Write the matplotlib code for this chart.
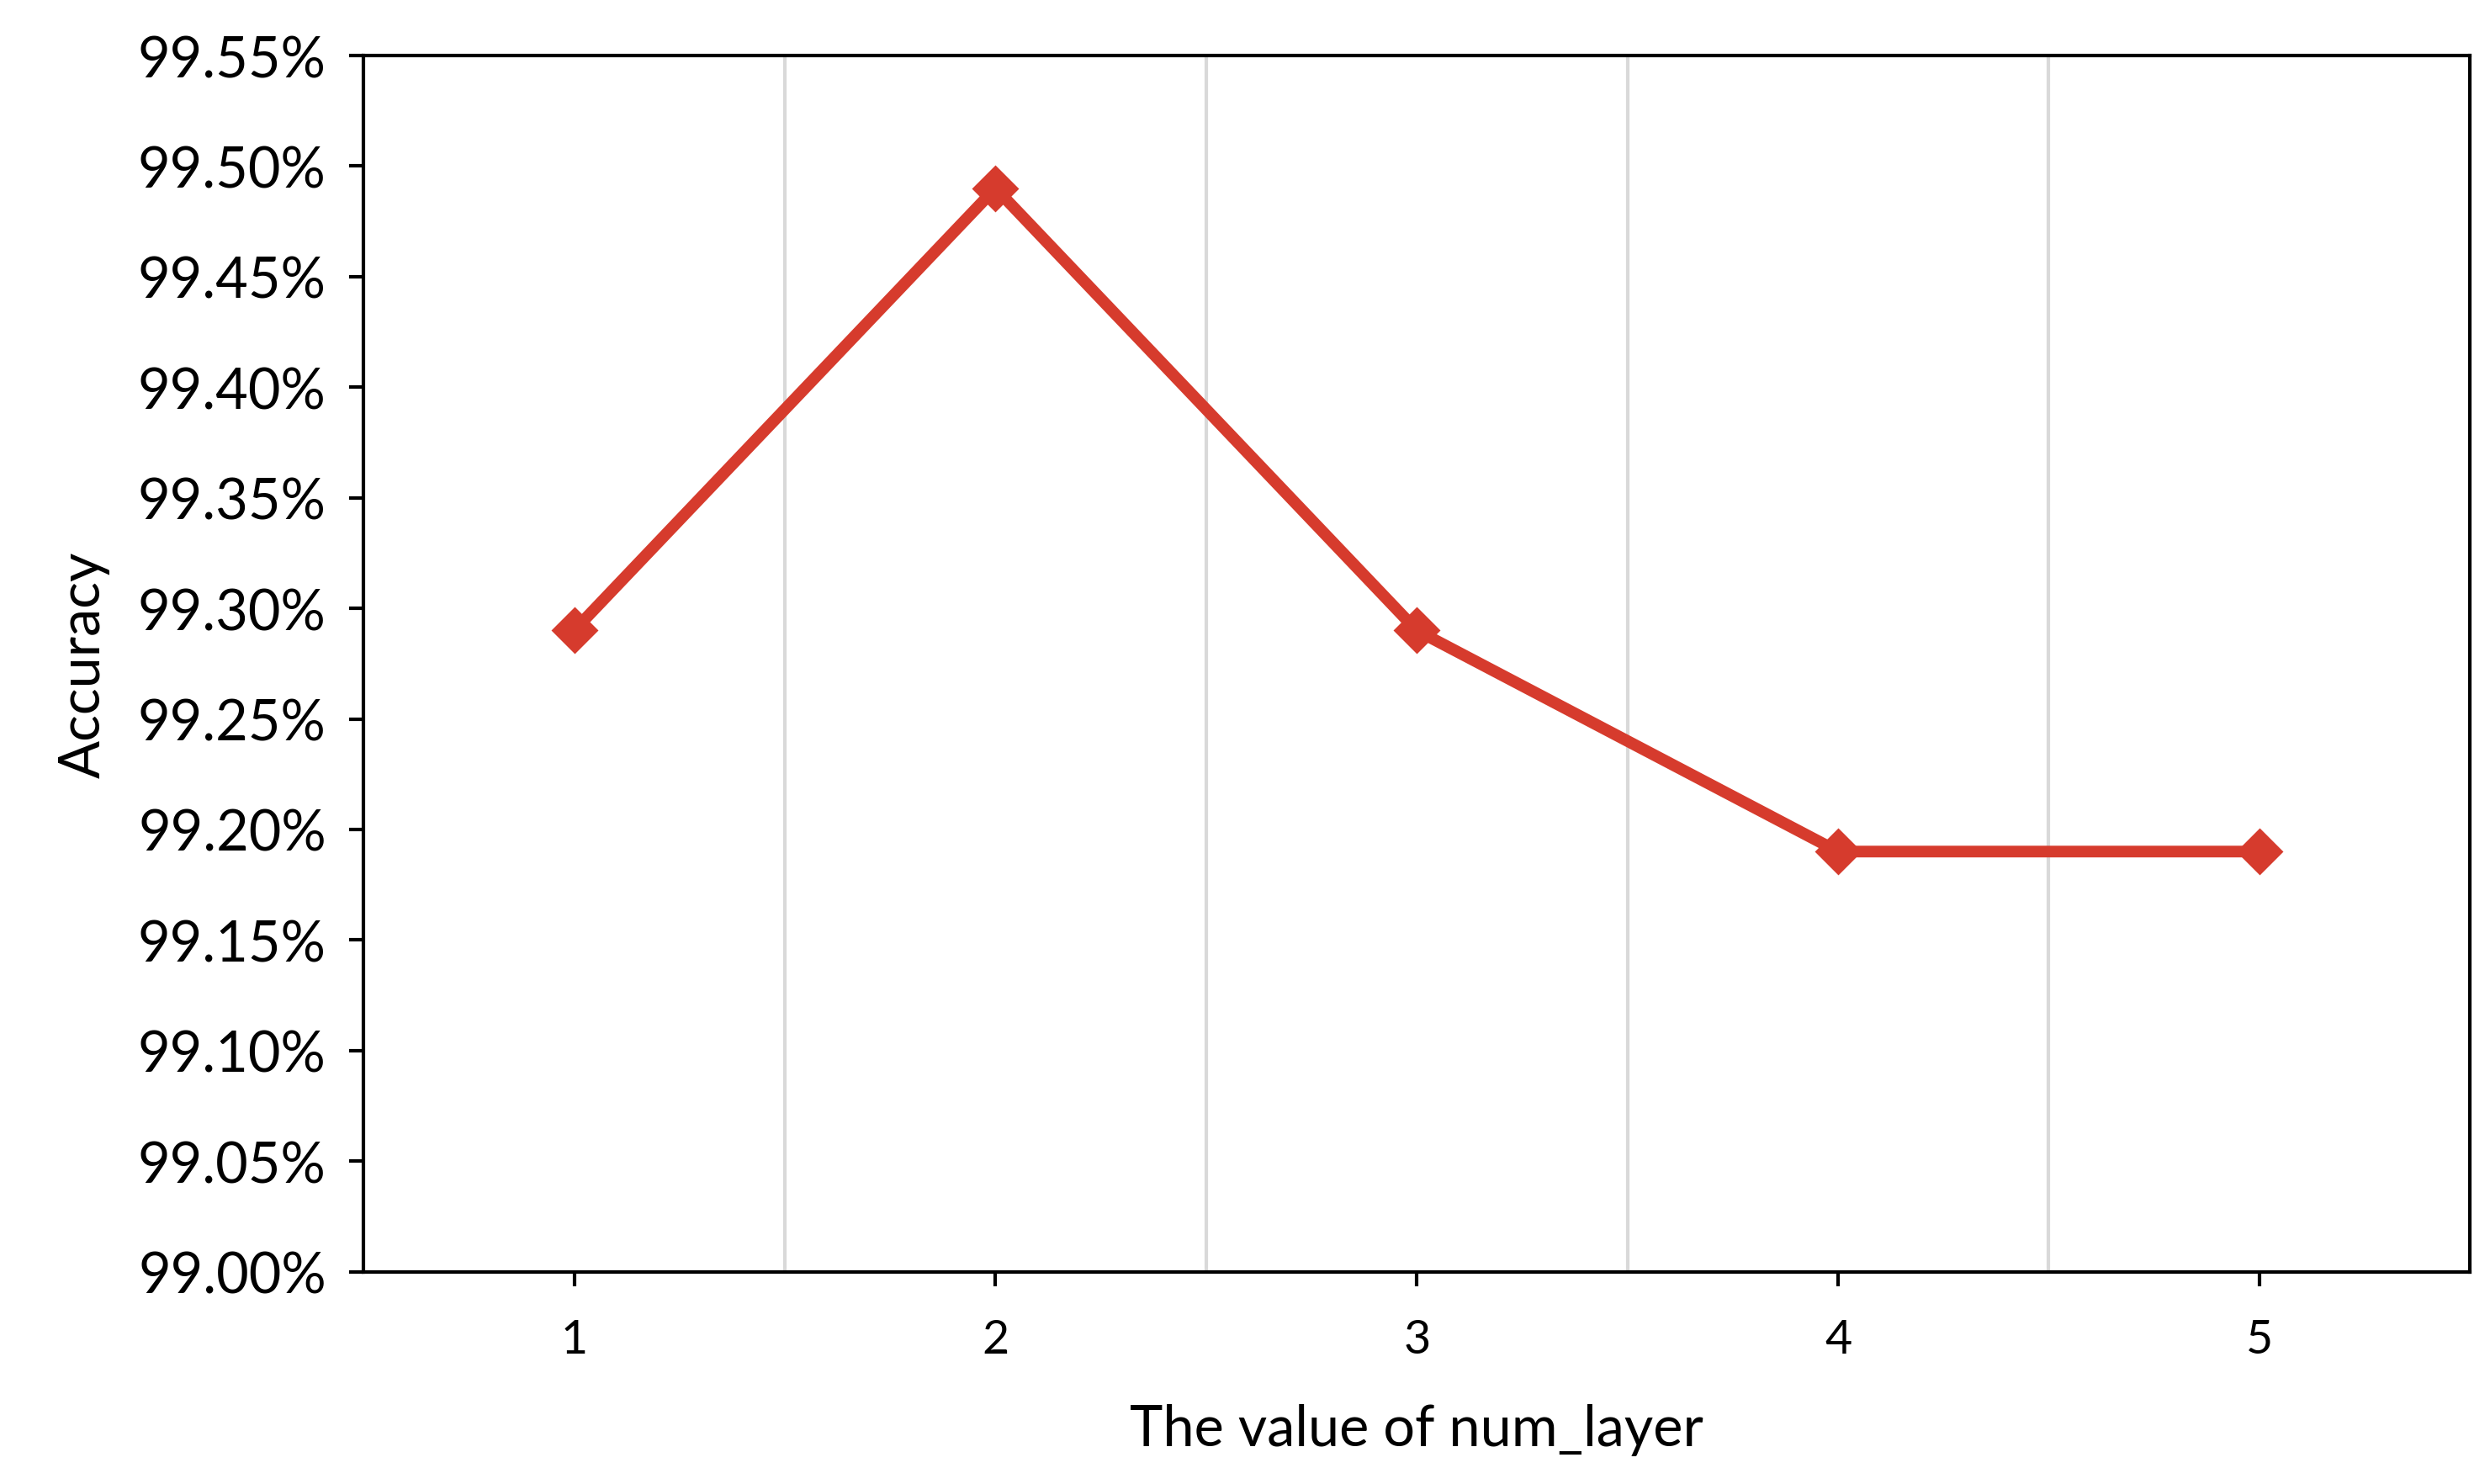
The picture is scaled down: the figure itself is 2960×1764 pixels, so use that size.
import matplotlib.pyplot as plt
from matplotlib.ticker import FuncFormatter

plt.rcParams['font.family'] = ['Lato', 'DejaVu Sans']

layers = [1, 2, 3, 4, 5]
accuracy = [99.29, 99.49, 99.29, 99.19, 99.19]

fig = plt.figure(figsize=(14.8, 8.825), dpi=200)
ax = fig.add_axes([0.146, 0.143, 0.846, 0.819])

for b in [1.5, 2.5, 3.5, 4.5]:
    ax.axvline(b, color="#d9d9d9", lw=1.5, zorder=0)

ax.plot(layers, accuracy, color="#d63b2d", lw=5, marker="D", markersize=13, zorder=3)

ax.set_xlim(0.5, 5.5)
ax.set_ylim(99.0, 99.55)
ax.set_yticks([99.0 + 0.05 * i for i in range(12)])
ax.yaxis.set_major_formatter(FuncFormatter(lambda v, p: f"{v:.2f}%"))
ax.set_xticks(layers)
for s in ax.spines.values():
    s.set_linewidth(1.5)
ax.tick_params(axis="y", labelsize=24, length=6, width=1.5, pad=10)
ax.tick_params(axis="x", labelsize=20, length=6, width=1.5, pad=14)
ax.set_xlabel("The value of num_layer", fontsize=24, labelpad=18)
ax.set_ylabel("Accuracy", fontsize=24, labelpad=12)

fig.savefig("out.png", dpi=200)
